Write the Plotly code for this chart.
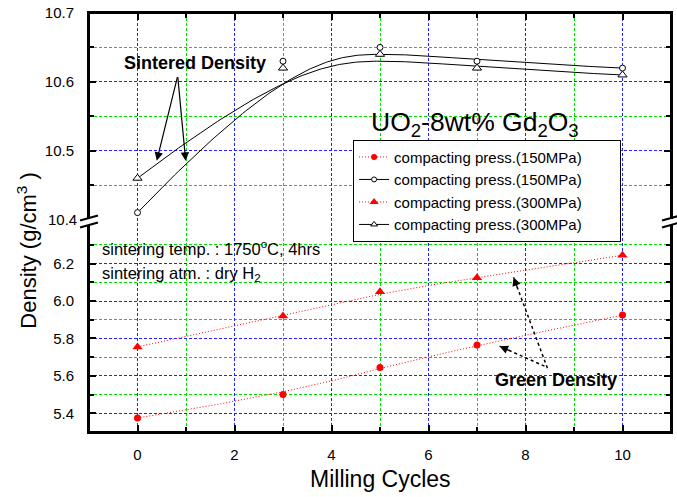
import numpy as np
import plotly.graph_objects as go

# ---------------- data ----------------
milling_cycles = [0, 3, 5, 7, 10]
sintered_150 = [10.41, 10.63, 10.65, 10.63, 10.62]
sintered_300 = [10.46, 10.62, 10.64, 10.62, 10.61]
green_150 = [5.375, 5.50, 5.645, 5.765, 5.925]
green_300 = [5.755, 5.92, 6.05, 6.125, 6.245]

x_ticks = [0, 2, 4, 6, 8, 10]
x_minor = [1, 3, 5, 7, 9]
upper_ticks = [10.5, 10.6, 10.7]
upper_minor = [10.45, 10.55, 10.65]
lower_ticks = [5.4, 5.6, 5.8, 6.0, 6.2]
lower_minor = [5.5, 5.7, 5.9, 6.1, 6.3]

legend_names = ["compacting press.(150MPa)"] * 2 + ["compacting press.(300MPa)"] * 2

FONT = "Arial, Liberation Sans, sans-serif"
W, H = 677, 497
L, R, T, B = 89, 4, 12, 65
PW, PH = W - L - R, H - T - B


def px(xp):
    return (xp - L) / PW


def py(yp):
    return (T + PH - yp) / PH


def bspline(xs, ys, n=200, p=3):
    """Clamped cubic B-spline using the data points as control points (Origin B-Spline style)."""
    ctrl = np.column_stack([xs, ys]).astype(float)
    k = len(ctrl)
    knots = np.concatenate([[0.0] * p, np.linspace(0, 1, k - p + 1), [1.0] * p])
    u = np.linspace(0, 1, n)

    def N(i, d):
        if d == 0:
            r = ((knots[i] <= u) & (u < knots[i + 1])).astype(float)
            if knots[i + 1] == 1 and knots[i] < 1:
                r[u == 1] = 1.0
            return r
        a = 0.0
        b = 0.0
        d1 = knots[i + d] - knots[i]
        d2 = knots[i + d + 1] - knots[i + 1]
        if d1 > 0:
            a = (u - knots[i]) / d1 * N(i, d - 1)
        if d2 > 0:
            b = (knots[i + d + 1] - u) / d2 * N(i + 1, d - 1)
        return a + b

    basis = np.array([N(i, p) for i in range(k)])
    pts = basis.T @ ctrl
    return pts[:, 0], pts[:, 1]


fig = go.Figure()

# sintered density curves (upper panel)
for ys in (sintered_150, sintered_300):
    cx, cy = bspline(milling_cycles, ys)
    fig.add_trace(go.Scatter(x=cx, y=cy, mode="lines", xaxis="x2", yaxis="y2",
                             line=dict(color="black", width=1), showlegend=False,
                             hoverinfo="skip"))
fig.add_trace(go.Scatter(x=milling_cycles, y=sintered_150, mode="markers", xaxis="x2", yaxis="y2",
                         marker=dict(symbol="circle", size=6, color="white",
                                     line=dict(color="black", width=1)), showlegend=False))
fig.add_trace(go.Scatter(x=milling_cycles, y=sintered_300, mode="markers", xaxis="x2", yaxis="y2",
                         marker=dict(symbol="triangle-up", size=8, color="white",
                                     line=dict(color="black", width=1)), showlegend=False))

# green density curves (lower panel)
for ys in (green_150, green_300):
    cx, cy = bspline(milling_cycles, ys)
    fig.add_trace(go.Scatter(x=cx, y=cy, mode="lines", xaxis="x", yaxis="y",
                             line=dict(color="red", width=1, dash="1px,2px"), showlegend=False,
                             hoverinfo="skip"))
fig.add_trace(go.Scatter(x=milling_cycles, y=green_150, mode="markers", xaxis="x", yaxis="y",
                         marker=dict(symbol="circle", size=7, color="red"), showlegend=False))
fig.add_trace(go.Scatter(x=milling_cycles, y=green_300, mode="markers", xaxis="x", yaxis="y",
                         marker=dict(symbol="triangle-up", size=9, color="red"), showlegend=False))

# legend entries
leg_styles = [
    dict(line=dict(color="red", width=1, dash="1px,2px"), marker=dict(symbol="circle", size=6, color="red")),
    dict(line=dict(color="black", width=1), marker=dict(symbol="circle", size=5, color="white", line=dict(color="black", width=1))),
    dict(line=dict(color="red", width=1, dash="1px,2px"), marker=dict(symbol="triangle-up", size=8, color="red")),
    dict(line=dict(color="black", width=1), marker=dict(symbol="triangle-up", size=6, color="white", line=dict(color="black", width=1))),
]
for name, st in zip(legend_names, leg_styles):
    fig.add_trace(go.Scatter(x=[None], y=[None], mode="lines+markers", name=name + "\u00a0" * 8,
                             xaxis="x", yaxis="y", **st))

grid_major = dict(gridcolor="#2020FF", griddash="3px,2px", gridwidth=1)
grid_minor = dict(gridcolor="#00E000", griddash="3px,2px", gridwidth=1, showgrid=True,
                  ticks="inside", ticklen=5, tickwidth=1.5, tickcolor="black")
tickfont = dict(family=FONT, size=15, color="black")
common_ax = dict(showline=True, linecolor="black", linewidth=2, ticks="inside", ticklen=7,
                 tickwidth=1.5, tickcolor="black", zeroline=False, tickfont=tickfont,
                 showgrid=True, **grid_major)

fig.update_layout(
    width=W, height=H,
    margin=dict(l=L, r=R, t=T, b=B, pad=0),
    paper_bgcolor="white", plot_bgcolor="white",
    font=dict(family=FONT, color="black"),
    showlegend=True,
    legend=dict(x=px(354), y=py(139), xanchor="left", yanchor="top",
                bgcolor="white", bordercolor="black", borderwidth=1,
                font=dict(family=FONT, size=15, color="black"),
                tracegroupgap=0),
    xaxis=dict(domain=[0, 1], range=[-1, 11], anchor="y", tickvals=x_ticks,
               ticklabelstandoff=8,
               minor=dict(tickvals=x_minor, **grid_minor), **common_ax),
    xaxis2=dict(domain=[0, 1], range=[-1, 11], anchor="y2", side="top",
                tickvals=x_ticks, showticklabels=False,
                minor=dict(tickvals=x_minor, **grid_minor), **common_ax),
    yaxis=dict(domain=[0, 0.5], range=[5.3, 5.3 + 210 / 187.5], anchor="x", mirror="ticks",
               tickvals=lower_ticks, tickformat=".1f", ticklabelstandoff=10,
               minor=dict(tickvals=lower_minor, **grid_minor), **common_ax),
    yaxis2=dict(domain=[0.5, 1], range=[10.7 - 210 / 690, 10.7], anchor="x2", mirror="ticks",
                tickvals=upper_ticks, tickformat=".1f", ticklabelstandoff=10,
                minor=dict(tickvals=upper_minor, **grid_minor), **common_ax),
)

annotations = []
# axis titles
annotations.append(dict(text="Milling Cycles", xref="paper", yref="paper", x=0.5, y=py(479),
                        showarrow=False, font=dict(family=FONT, size=23), xanchor="center", yanchor="middle"))
annotations.append(dict(text="Density (g/cm<sup>3</sup> )", xref="paper", yref="paper", x=px(27), y=py(250),
                        showarrow=False, textangle=-90, font=dict(family=FONT, size=22),
                        xanchor="center", yanchor="middle"))
# 10.4 label at break
annotations.append(dict(text="10.4", xref="paper", yref="y2", x=0, y=10.4, xanchor="right",
                        xshift=-10, showarrow=False, font=tickfont))
# chart title text
annotations.append(dict(text="UO<sub>2</sub>-8wt% Gd<sub>2</sub>O<sub>3</sub>", xref="paper", yref="paper",
                        x=px(476), y=py(123), showarrow=False, font=dict(family=FONT, size=26.5),
                        xanchor="center", yanchor="middle"))
# condition text
annotations.append(dict(text="sintering temp. : 1750<sup>o</sup>C, 4hrs", xref="paper", yref="paper",
                        x=px(100), y=py(248), xanchor="left", yanchor="middle", showarrow=False,
                        font=dict(family=FONT, size=16.5)))
annotations.append(dict(text="sintering atm. : dry H<sub>2</sub>", xref="paper", yref="paper",
                        x=px(100), y=py(274), xanchor="left", yanchor="middle", showarrow=False,
                        font=dict(family=FONT, size=16.5)))
# Sintered Density label and arrows
annotations.append(dict(text="<b>Sintered Density</b>", xref="paper", yref="paper", x=px(195), y=py(62),
                        showarrow=False, font=dict(family=FONT, size=18), xanchor="center", yanchor="middle"))
for hx, tx in ((157, 178), (186, 178)):
    annotations.append(dict(text="", xref="paper", yref="paper", x=px(hx), y=py(160),
                            ax=tx - hx, ay=75 - 160, showarrow=True, arrowhead=2, arrowsize=1.4,
                            arrowwidth=1.2, arrowcolor="black", standoff=0, startstandoff=0))
# Green Density label and dotted arrows
annotations.append(dict(text="<b>Green Density</b>", xref="paper", yref="paper", x=px(558), y=py(380),
                        showarrow=False, font=dict(family=FONT, size=18), xanchor="center", yanchor="middle"))
shapes = []
for (tx, ty), (hx, hy) in (((549, 368), (515, 277)), ((546, 366), (501, 346))):
    shapes.append(dict(type="line", xref="paper", yref="paper", x0=px(tx), y0=py(ty), x1=px(hx), y1=py(hy),
                       line=dict(color="black", width=1.5, dash="dot")))
    v = np.array([hx - tx, hy - ty], dtype=float)
    v /= np.linalg.norm(v)
    annotations.append(dict(text="", xref="paper", yref="paper", x=px(hx), y=py(hy),
                            ax=-v[0] * 12, ay=-v[1] * 12, showarrow=True, arrowhead=2, arrowsize=1.3,
                            arrowwidth=1.3, arrowcolor="black", standoff=0))

# frame (drawn explicitly so the break gap can be left open)
frame = dict(type="line", xref="paper", yref="paper", line=dict(color="black", width=2))
shapes.append(dict(frame, x0=0, x1=1, y0=1, y1=1))
shapes.append(dict(frame, x0=0, x1=1, y0=0, y1=0))
for xc in (0, 1):
    shapes.append(dict(frame, x0=xc, x1=xc, y0=1, y1=py(218.5)))
    shapes.append(dict(frame, x0=xc, x1=xc, y0=py(224.5), y1=0))

# axis break: white gaps and double slashes on both sides
for xc in (L, W - R):
    shapes.append(dict(type="rect", xref="paper", yref="paper", x0=px(xc - 3), x1=px(xc + 3),
                       y0=py(224.5), y1=py(218.5), fillcolor="white", line=dict(width=0)))
    for dy in (0, 7):
        shapes.append(dict(type="line", xref="paper", yref="paper", x0=px(xc - 9), y0=py(220 + dy),
                           x1=px(xc + 9), y1=py(215 + dy), line=dict(color="black", width=2)))

fig.update_layout(annotations=annotations, shapes=shapes)
fig.write_html("out.html", config={"displayModeBar": False},
               post_script="document.body.style.margin='0';document.body.style.overflow='hidden';")
